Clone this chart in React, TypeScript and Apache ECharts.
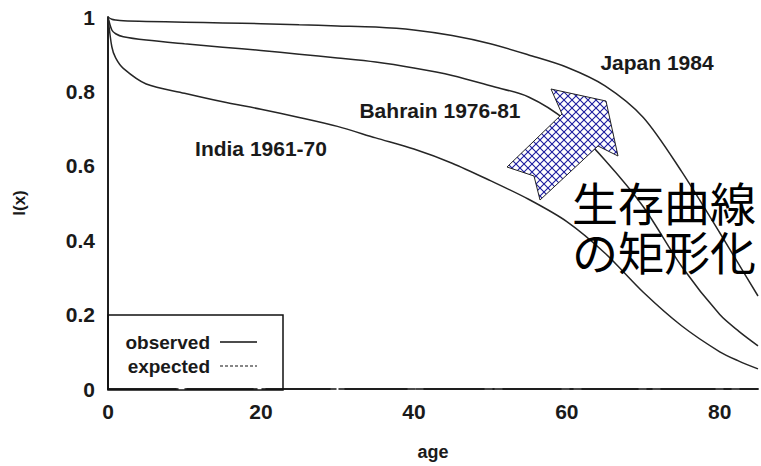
import React, { useEffect, useRef } from "react";
import * as echarts from "echarts";

const ages = [0, 0.5, 1, 2, 5, 10, 15, 20, 25, 30, 35, 40, 45, 50, 55, 60, 65, 70, 75, 80, 82.5, 85];
const japan = [1.0, 0.994, 0.992, 0.99, 0.988, 0.986, 0.984, 0.982, 0.979, 0.976, 0.973, 0.965, 0.95, 0.928, 0.898, 0.865, 0.815, 0.73, 0.585, 0.42, 0.335, 0.25];
const bahrain = [1.0, 0.965, 0.955, 0.947, 0.938, 0.928, 0.919, 0.91, 0.9, 0.89, 0.879, 0.863, 0.843, 0.815, 0.785, 0.72, 0.615, 0.49, 0.33, 0.2, 0.155, 0.116];
const india = [1.0, 0.92, 0.89, 0.862, 0.82, 0.795, 0.772, 0.752, 0.73, 0.706, 0.675, 0.645, 0.607, 0.56, 0.51, 0.45, 0.365, 0.26, 0.17, 0.1, 0.075, 0.054];

const seriesNames = ["Japan 1984", "Bahrain 1976-81", "India 1961-70"];
const legendLabels = ["observed", "expected"];
const titleLines = ["生存曲線", "の矩形化"];
const xTicks = [0, 20, 40, 60, 80];

const FONT = "'Liberation Sans', Arial, sans-serif";

export default function App() {
  const ref = useRef<HTMLDivElement>(null);
  useEffect(() => {
    if (!ref.current) return;
    const chart = echarts.init(ref.current, null, { renderer: "svg" });

    const T = 8;
    const tile = document.createElement("canvas");
    tile.width = T;
    tile.height = T;
    const ctx = tile.getContext("2d");
    if (ctx) {
      ctx.fillStyle = "#ffffff";
      ctx.fillRect(0, 0, T, T);
      ctx.strokeStyle = "#1c1c9e";
      ctx.lineWidth = 1.1;
      ctx.beginPath();
      ctx.moveTo(-1, -1);
      ctx.lineTo(T + 1, T + 1);
      ctx.moveTo(T + 1, -1);
      ctx.lineTo(-1, T + 1);
      ctx.stroke();
    }

    const mk = (vals: number[]) => ages.map((a, i) => [a, vals[i]]);
    const lineSeries = (name: string, vals: number[]) => ({
      name,
      type: "line",
      data: mk(vals),
      showSymbol: false,
      smooth: 0.3,
      lineStyle: { color: "#262626", width: 1.5 },
      xAxisIndex: 0,
      yAxisIndex: 0,
    });

    const labelStyle = { fontFamily: FONT, fontSize: 21, fontWeight: "bold", fill: "#1a1a1a" };
    const jpStyle = { fontFamily: "'Noto Sans CJK JP'", fontSize: 46, fill: "#000", verticalAlign: "middle" };

    chart.setOption({
      animation: false,
      grid: { left: 108, right: 1, top: 17, bottom: 76, containLabel: false },
      xAxis: [
        {
          type: "value",
          min: 0,
          max: 85,
          interval: 20,
          position: "bottom",
          name: "age",
          nameLocation: "middle",
          nameGap: 54,
          nameTextStyle: { fontFamily: FONT, fontSize: 18, fontWeight: "bold", color: "#1a1a1a" },
          axisLine: { show: true, lineStyle: { color: "#111", width: 1.5, type: [68, 9] } },
          axisTick: { show: false },
          splitLine: { show: false },
          axisLabel: {
            margin: 12,
            fontFamily: FONT,
            fontSize: 21,
            fontWeight: "bold",
            color: "#1a1a1a",
            formatter: (v: number) => (xTicks.indexOf(v) >= 0 ? String(v) : ""),
          },
        },
        {
          type: "value",
          min: 0,
          max: 85,
          position: "top",
          axisLine: { show: true, lineStyle: { color: "#111", width: 1.5, type: [70, 9] } },
          axisTick: { show: false },
          axisLabel: { show: false },
          splitLine: { show: false },
        },
      ],
      yAxis: [
        {
          type: "value",
          min: 0,
          max: 1,
          interval: 0.2,
          position: "left",
          name: "l(x)",
          nameLocation: "middle",
          nameRotate: 90,
          nameGap: 80,
          nameTextStyle: { fontFamily: FONT, fontSize: 17, fontWeight: "bold", color: "#1a1a1a" },
          axisLine: { show: true, lineStyle: { color: "#111", width: 1.5 } },
          axisTick: { show: false },
          splitLine: { show: false },
          axisLabel: { margin: 13, fontFamily: FONT, fontSize: 21, fontWeight: "bold", color: "#1a1a1a" },
        },
        {
          type: "value",
          min: 0,
          max: 1,
          position: "right",
          axisLine: { show: true, lineStyle: { color: "#111", width: 1.5 } },
          axisTick: { show: false },
          axisLabel: { show: false },
          splitLine: { show: false },
        },
      ],
      series: [
        lineSeries(seriesNames[0], japan),
        lineSeries(seriesNames[1], bahrain),
        lineSeries(seriesNames[2], india),
      ],
      graphic: [
        { type: "text", x: 657, y: 62, style: { ...labelStyle, text: seriesNames[0], align: "center", verticalAlign: "middle" } },
        { type: "text", x: 440, y: 110, style: { ...labelStyle, text: seriesNames[1], align: "center", verticalAlign: "middle" } },
        { type: "text", x: 261, y: 148, style: { ...labelStyle, text: seriesNames[2], align: "center", verticalAlign: "middle" } },
        {
          type: "polygon",
          shape: {
            points: [
              [507, 167],
              [562, 114],
              [551, 89],
              [606, 101],
              [618, 156],
              [598, 146],
              [540, 200],
              [534, 176],
            ],
          },
          style: { fill: { image: tile, repeat: "repeat" } as any, stroke: "#222", lineWidth: 1 },
          z: 10,
        },
        { type: "text", x: 572, y: 201, style: { ...jpStyle, text: titleLines[0] }, z: 11 },
        { type: "text", x: 572, y: 250, style: { ...jpStyle, text: titleLines[1] }, z: 11 },
        {
          type: "rect",
          shape: { x: 108, y: 315, width: 175, height: 75 },
          style: { fill: "transparent", stroke: "#111", lineWidth: 1.5 },
        },
        { type: "text", x: 210, y: 342, style: { ...labelStyle, fontSize: 19, text: legendLabels[0], align: "right", verticalAlign: "middle" } },
        { type: "text", x: 210, y: 366, style: { ...labelStyle, fontSize: 19, text: legendLabels[1], align: "right", verticalAlign: "middle" } },
        { type: "line", shape: { x1: 220, y1: 342, x2: 257, y2: 342 }, style: { stroke: "#111", lineWidth: 1.6 } },
        { type: "line", shape: { x1: 220, y1: 366, x2: 257, y2: 366 }, style: { stroke: "#111", lineWidth: 1.2, lineDash: [3, 2] } },
      ],
    });
    return () => chart.dispose();
  }, []);
  return <div ref={ref} style={{ position: "fixed", left: 0, top: 0, width: 761, height: 466, background: "#fff" }} />;
}
